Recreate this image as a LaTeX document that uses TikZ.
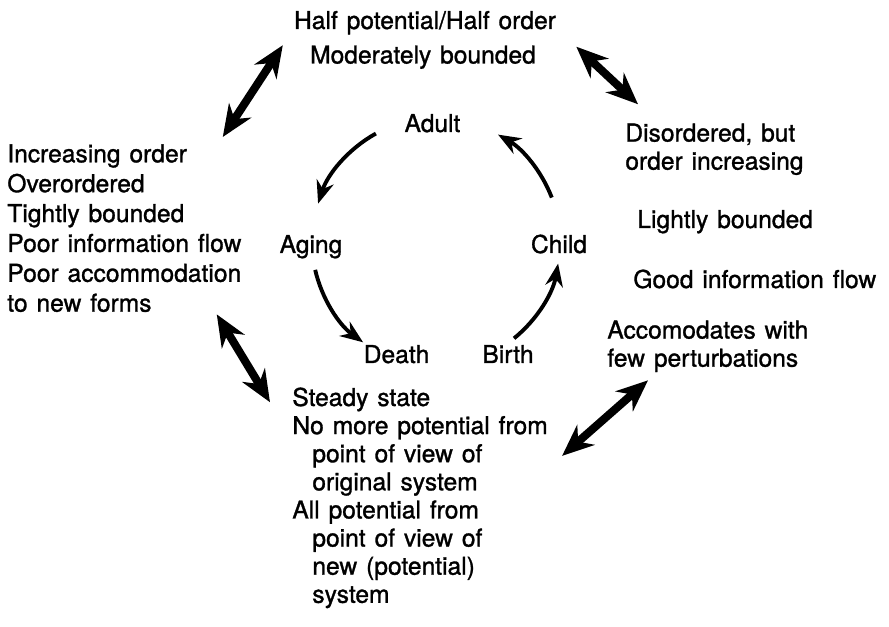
\documentclass[tikz,border=0pt]{standalone}
\usepackage{fontspec}
\setmainfont[FakeBold=1.2, WordSpace=1.3]{TeX Gyre Heros}
\usetikzlibrary{arrows.meta}
\begin{document}
\begin{tikzpicture}[font=\fontsize{14}{16}\selectfont,
  stage/.style={inner sep=0pt, anchor=base},
  note/.style={inner sep=0pt, align=left, anchor=north west},
  lifearrow/.style={-{Stealth[length=13pt,width=10pt]}, line width=2.2pt},
  swing/.style={{Stealth[length=18pt,width=15pt]}-{Stealth[length=18pt,width=15pt]}, line width=4.6pt}]
  \useasboundingbox (0,0) rectangle (17.78,-12.54);
  % life cycle
  \coordinate (hub) at (8.72,-4.84);
  \foreach \s/\e in {119/162, 193/234, 309/350, 21/60}
    \draw[lifearrow] ([shift={(\s:2.48)}]hub) arc[start angle=\s, end angle=\e, radius=2.48];
  \node[stage] (adult) at (8.65,-2.64) {Adult};
  \node[stage] (aging) at (6.22,-5.06) {Aging};
  \node[stage] (child) at (11.18,-5.06) {Child};
  \node[stage] (death) at (7.93,-7.26) {Death};
  \node[stage] (birth) at (10.16,-7.26) {Birth};
  % states of the system
  \node[stage] (half) at (8.50,-0.58) {Half potential/Half order};
  \node[stage] (mod) at (8.46,-1.27) {Moderately bounded};
  \node[note, font=\fontsize{14}{17}\selectfont] (over) at (0.14,-2.88) {Increasing order\\Overordered\\Tightly bounded\\Poor information flow\\Poor accommodation\\to new forms};
  \node[note] (dis) at (12.50,-2.465) {Disordered, but\\order increasing};
  \node[stage, anchor=base west] (light) at (12.74,-4.56) {Lightly bounded};
  \node[stage, anchor=base west] (good) at (12.66,-5.76) {Good information flow};
  \node[note] (acc) at (12.14,-6.405) {Accomodates with\\few perturbations};
  \node[note] (steady) at (5.84,-7.745) {Steady state\\No more potential from\\
    \hspace*{0.4cm}point of view of\\\hspace*{0.4cm}original system\\All potential from\\
    \hspace*{0.4cm}point of view of\\\hspace*{0.4cm}new (potential)\\\hspace*{0.4cm}system};
  % transitions
  \draw[swing] ([shift={(-0.38,0.14)}]over.north east) -- ([xshift=-0.54cm]mod.north west);
  \draw[swing] ([shift={(0.4,-0.24)}]half.south east) -- ([shift={(0.26,0.38)}]dis.north west);
  \draw[swing] ([shift={(-0.5,-0.04)}]over.south east) -- ([shift={(-0.44,-0.3)}]steady.north west);
  \draw[swing] ([shift={(0.28,0.84)}]steady.east) -- ([shift={(0.82,-0.16)}]acc.south west);
\end{tikzpicture}
\end{document}
